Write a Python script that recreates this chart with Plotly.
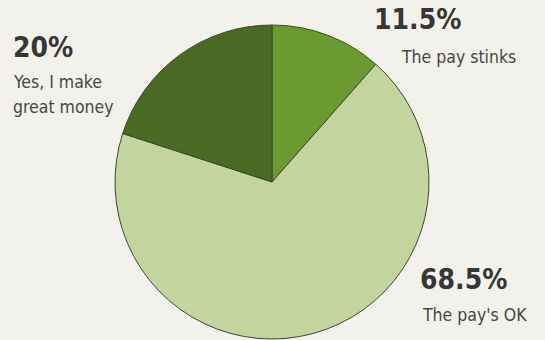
import plotly.graph_objects as go

categories = ["The pay stinks", "The pay's OK", "Yes, I make<br>great money"]
values = [11.5, 68.5, 20.0]
pct_labels = ["11.5%", "68.5%", "20%"]
colors = ["#6b9a30", "#c4d49e", "#4a6a24"]

W, H = 545, 340
cx, cy, r = 272, 182, 157

fig = go.Figure(go.Pie(
    values=values,
    labels=categories,
    sort=False,
    direction="clockwise",
    rotation=0,
    marker=dict(colors=colors, line=dict(color="#3b4a2c", width=1)),
    textinfo="none",
    hoverinfo="none",
    showlegend=False,
    domain=dict(x=[(cx - r) / W, (cx + r) / W], y=[(H - cy - r) / H, (H - cy + r) / H]),
))

# (pct x, pct top, label x, label top) in pixels
pos = [(372, 1, 399, 45), (418, 261, 420, 303), (11, 29, 11, 70)]
FAM = "DejaVu Sans Condensed, Roboto Condensed, Roboto, sans-serif"
LINE = 25

def px(x, y):
    return x / W, 1 - y / H

ann = []
for i in range(len(values)):
    x1, y1, x2, y2 = pos[i]
    ax, ay = px(x1, y1)
    ann.append(dict(x=ax, y=ay, xref="paper", yref="paper", xanchor="left", yanchor="top",
                    text="<b>" + pct_labels[i] + "</b>", showarrow=False, align="left",
                    font=dict(family=FAM, size=28, color="#363634")))
    for j, line in enumerate(categories[i].split("<br>")):
        bx, by = px(x2, y2 + j * LINE)
        ann.append(dict(x=bx, y=by, xref="paper", yref="paper", xanchor="left", yanchor="top",
                        text=line, showarrow=False, align="left",
                        font=dict(family=FAM, size=17.5, color="#474745")))

fig.update_layout(
    width=W, height=H,
    margin=dict(l=0, r=0, t=0, b=0),
    paper_bgcolor="#f2f1ec",
    plot_bgcolor="#f2f1ec",
    annotations=ann,
)

fig.write_html("out.html")
